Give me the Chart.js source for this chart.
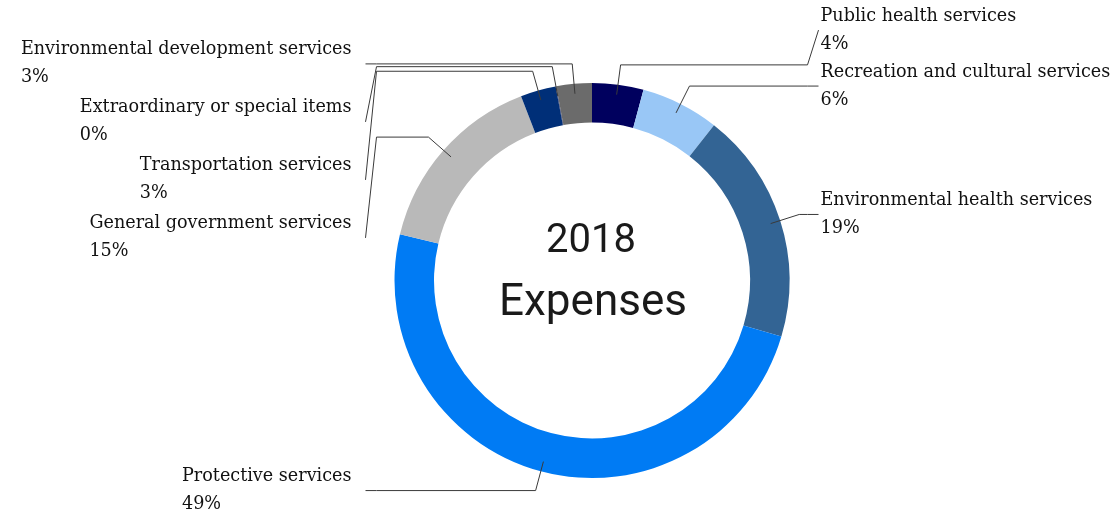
<!DOCTYPE html>
<html>
<head>
<meta charset="utf-8">
<script src="https://cdn.jsdelivr.net/npm/chart.js@4.4.1/dist/chart.umd.min.js"></script>
<style>
    html, body { margin: 0; padding: 0; background: #fff; }
</style>
</head>
<body>
<canvas id="expense_chart" width="1115" height="517"></canvas>
<script>
var categories = ['Public health services', 'Recreation and cultural services', 'Environmental health services',
    'Protective services', 'General government services', 'Transportation services',
    'Extraordinary or special items', 'Environmental development services'];
var shares = [4.2, 6.4, 19.0, 49.2, 15.4, 2.9, 0.05, 2.9];
var centerTitle = ['2018', 'Expenses'];
var sliceColors = ['#00005e', '#99c7f6', '#336494', '#007bf4', '#b9b9b9', '#002f78', '#1c2c66', '#6b6b6b'];

var total = shares.reduce(function (a, b) { return a + b; }, 0);

// labels outside the ring with bent leader lines
var calloutLabels = {
    id: 'calloutLabels',
    afterDraw: function (chart) {
        var ctx = chart.ctx;
        var arcs = chart.getDatasetMeta(0).data;
        var left = [], right = [];
        arcs.forEach(function (arc, i) {
            var mid = (arc.startAngle + arc.endAngle) / 2;
            var r = arc.outerRadius;
            var item = {
                i: i, cx: arc.x, r: r,
                ax: arc.x + Math.cos(mid) * (r - 10), ay: arc.y + Math.sin(mid) * (r - 10),
                ex: arc.x + Math.cos(mid) * (r + 20), ey: arc.y + Math.sin(mid) * (r + 20)
            };
            item.y = item.ey;
            (item.ex < arc.x ? left : right).push(item);
        });
        var gap = 58;
        left.sort(function (a, b) { return a.ey - b.ey; });
        for (var k = 1; k < left.length; k++) {
            left[k].y = Math.max(left[k].ey, left[k - 1].y + gap);
        }
        right.sort(function (a, b) { return b.ey - a.ey; });
        for (var k = 1; k < right.length; k++) {
            right[k].y = Math.min(right[k].ey, right[k - 1].y - gap + 2);
        }

        ctx.save();
        ctx.font = '17.6px "DejaVu Serif"';
        ctx.textBaseline = 'middle';
        ctx.textAlign = 'left';
        function draw(item, side) {
            var hx = item.cx + side * (item.r + 18);
            var fx = item.cx + side * (item.r + 29);
            ctx.strokeStyle = '#3a3a3a';
            ctx.lineWidth = 1;
            ctx.beginPath();
            ctx.moveTo(item.ax, item.ay);
            ctx.lineTo(item.ex, item.ey);
            ctx.lineTo(hx, item.ey);
            ctx.lineTo(fx, item.y);
            ctx.stroke();

            var name = categories[item.i];
            var pct = Math.round(shares[item.i] / total * 100) + '%';
            var tx;
            if (side > 0) {
                tx = item.cx + item.r + 31;
            } else {
                var w = Math.max(ctx.measureText(name).width, ctx.measureText(pct).width);
                tx = item.cx - item.r - 43 - w;
            }
            ctx.fillStyle = '#111';
            ctx.fillText(name, tx, item.y - 14);
            ctx.fillText(pct, tx, item.y + 14);
        }
        left.forEach(function (it) { draw(it, -1); });
        right.forEach(function (it) { draw(it, 1); });

        // title in the hole
        var a0 = arcs[0];
        ctx.textAlign = 'center';
        ctx.textBaseline = 'alphabetic';
        ctx.fillStyle = '#1a1a1a';
        ctx.font = '40px Roboto';
        ctx.fillText(centerTitle[0], a0.x - 1, a0.y - 29);
        ctx.font = '44px Roboto';
        ctx.fillText(centerTitle[1], a0.x + 1, a0.y + 34);
        ctx.restore();
    }
};

var CHART = document.getElementById('expense_chart').getContext('2d');
var expense_chart = new Chart(CHART, {
    type: 'doughnut',
    data: {
        labels: categories,
        datasets: [{
            data: shares,
            backgroundColor: sliceColors,
            borderWidth: 0,
            hoverOffset: 0
        }]
    },
    options: {
        responsive: false,
        animation: false,
        cutout: '80%',
        layout: { padding: { top: 83, bottom: 39, left: 300, right: 231 } },
        plugins: {
            legend: { display: false },
            tooltip: { enabled: false }
        }
    },
    plugins: [calloutLabels]
});
</script>
</body>
</html>
